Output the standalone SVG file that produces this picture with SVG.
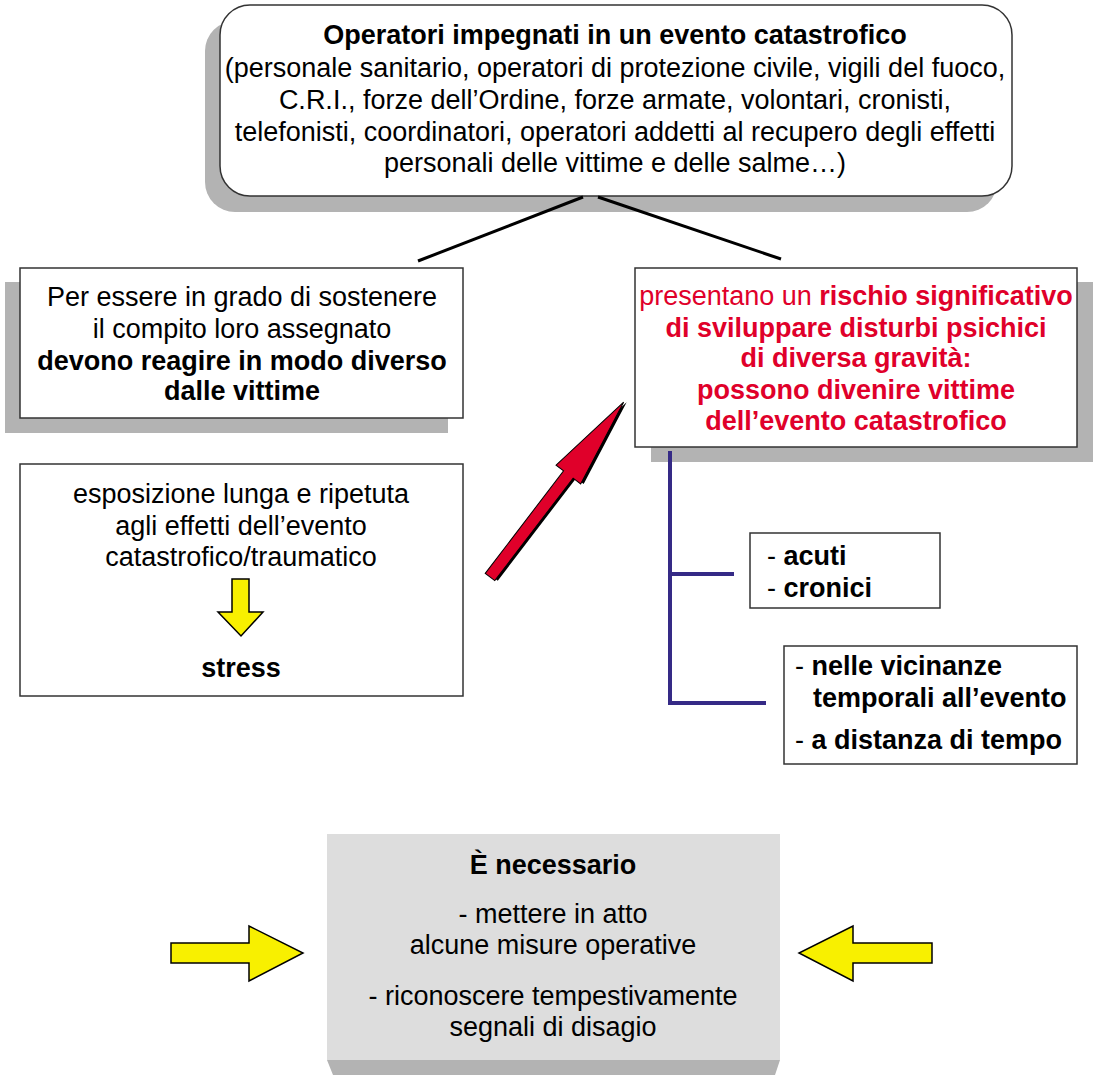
<svg xmlns="http://www.w3.org/2000/svg" width="1097" height="1075" viewBox="0 0 1097 1075">
<style>
text{font-family:"Liberation Sans",Arial,sans-serif;font-size:27px;fill:#000;text-anchor:middle}
.b{font-weight:bold}
.red{fill:#e0002a}
.l{text-anchor:start}
.box{fill:#fff;stroke:#333;stroke-width:1.5}
.sh{fill:#b3b3b3}
.yel{fill:#f8f000;stroke:#000;stroke-width:1.5;stroke-linejoin:miter}
.pur{stroke:#352a86;stroke-width:4;fill:none}
</style>
<rect width="1097" height="1075" fill="#fff"/>
<g id="top">
<rect class="sh" x="205" y="21" width="792" height="191" rx="30"/>
<rect class="box" x="220" y="5" width="792" height="191" rx="30"/>
<text class="b" x="615" y="44">Operatori impegnati in un evento catastrofico</text>
<text x="615" y="77">(personale sanitario, operatori di protezione civile, vigili del fuoco,</text>
<text x="615" y="109">C.R.I., forze dell’Ordine, forze armate, volontari, cronisti,</text>
<text x="615" y="141">telefonisti, coordinatori, operatori addetti al recupero degli effetti</text>
<text x="615" y="172">personali delle vittime e delle salme…)</text>
</g>
<g id="left1">
<rect class="sh" x="5" y="282" width="443" height="151"/>
<rect class="box" x="20" y="268" width="443" height="150"/>
<text x="242" y="306">Per essere in grado di sostenere</text>
<text x="242" y="338">il compito loro assegnato</text>
<text class="b" x="242" y="370">devono reagire in modo diverso</text>
<text class="b" x="242" y="400">dalle vittime</text>
</g>
<g id="right1">
<rect class="sh" x="651" y="282" width="442" height="180"/>
<rect class="box" x="635" y="268" width="442" height="179"/>
<text class="red" x="856" y="305">presentano un <tspan class="b">rischio significativo</tspan></text>
<text class="red b" x="856" y="337">di sviluppare disturbi psichici</text>
<text class="red b" x="856" y="367">di diversa gravità:</text>
<text class="red b" x="856" y="399">possono divenire vittime</text>
<text class="red b" x="856" y="430">dell’evento catastrofico</text>
</g>
<g id="left2">
<rect class="box" x="20" y="464" width="443" height="232"/>
<text x="241" y="503">esposizione lunga e ripetuta</text>
<text x="241" y="535">agli effetti dell’evento</text>
<text x="241" y="566">catastrofico/traumatico</text>
<polygon class="yel" points="232,579 249,579 249,612 263,612 241,636 218,612 232,612"/>
<text class="b" x="241" y="677">stress</text>
</g>
<g id="redarrow">
<polygon transform="translate(491,578) rotate(-52.6)" fill="#000" points="2,-5 131,-5 131,-14.5 222,1 131,16.5 131,7 2,7"/>
<polygon transform="translate(490,577) rotate(-52.6)" fill="#e0002a" stroke="#000" stroke-width="1" points="0,-6 129,-6 129,-15.5 220,0 129,15.5 129,6 0,6"/>
</g>
<g id="acuti">
<rect class="box" x="750" y="533" width="190" height="75"/>
<text class="l" x="767" y="565">- <tspan class="b">acuti</tspan></text>
<text class="l" x="767" y="597">- <tspan class="b">cronici</tspan></text>
</g>
<g id="nelle">
<rect class="box" x="784" y="646" width="293" height="118"/>
<text class="l" x="795" y="675">- <tspan class="b">nelle vicinanze</tspan></text>
<text class="l b" x="813" y="707">temporali all’evento</text>
<text class="l" x="795" y="749">- <tspan class="b">a distanza di tempo</tspan></text>
</g>
<g id="bottom">
<polygon class="sh" points="327,1060 780,1060 775,1075 333,1075"/>
<rect x="327" y="834" width="453" height="226" fill="#dddddd"/>
<text class="b" x="553" y="874">È necessario</text>
<text x="553" y="923">- mettere in atto</text>
<text x="553" y="954">alcune misure operative</text>
<text x="553" y="1005">- riconoscere tempestivamente</text>
<text x="553" y="1036">segnali di disagio</text>
</g>
<g id="arrowL">
<polygon class="yel" points="171,943 249,943 249,926 303,953 249,981 249,963 171,963"/>
</g>
<g id="arrowR">
<polygon class="yel" points="932,943 853,943 853,926 799,953 853,981 853,963 932,963"/>
</g>
<g id="connectors">
<line x1="583" y1="197" x2="418" y2="261" stroke="#000" stroke-width="3"/>
<line x1="598" y1="197" x2="781" y2="259" stroke="#000" stroke-width="3"/>
<polyline class="pur" points="670,451 670,703 766,703"/>
<line class="pur" x1="670" y1="574" x2="734" y2="574"/>
</g>
</svg>
